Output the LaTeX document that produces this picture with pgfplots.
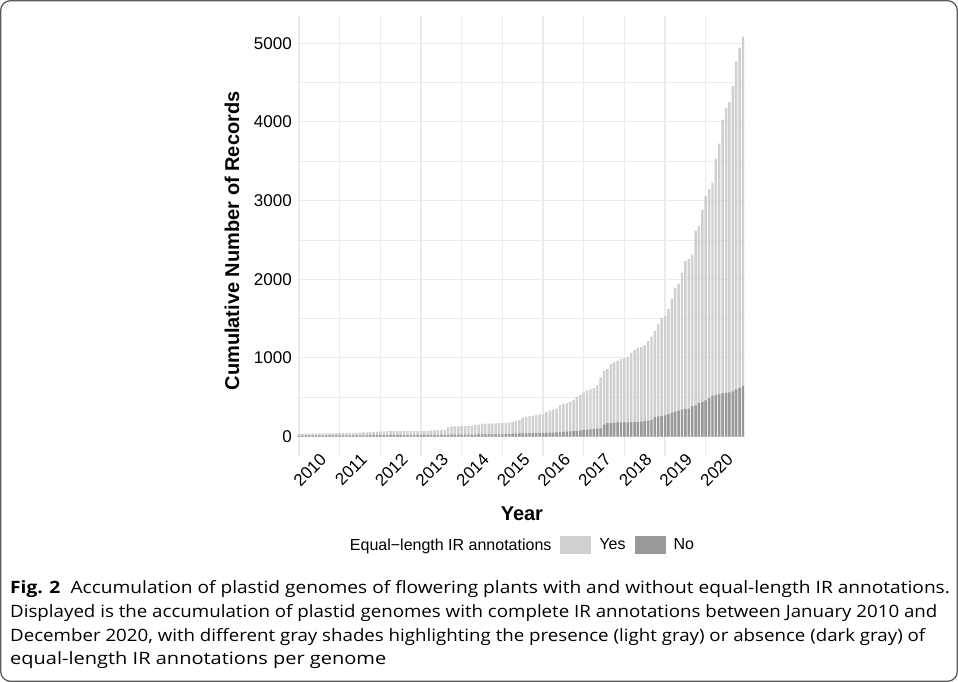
\documentclass[border=0pt]{standalone}
\usepackage{fontspec}
\setmainfont{Liberation Sans}
\newfontfamily\capfont[FakeStretch=1.1]{Open Sans}
\usepackage{pgfplots}
\usepackage{pgfplotstable}
\pgfplotsset{compat=1.18}
\definecolor{yescol}{HTML}{D0D0D0}
\definecolor{nocol}{HTML}{999999}
\definecolor{gridcol}{HTML}{EBEBEB}
\definecolor{framecol}{HTML}{5A5A5A}
\pgfplotstableread{
m total no
0 35 12
1 36 12
2 37 13
3 38 13
4 38 13
5 39 13
6 39 14
7 40 14
8 40 14
9 41 14
10 41 14
11 42 15
12 42 15
13 43 15
14 43 15
15 44 15
16 45 16
17 46 16
18 50 16
19 52 16
20 54 16
21 55 17
22 56 17
23 58 17
24 65 17
25 66 17
26 67 17
27 67 18
28 68 18
29 68 18
30 69 18
31 69 19
32 70 19
33 70 19
34 70 20
35 70 20
36 70 20
37 71 20
38 72 20
39 78 21
40 78 21
41 80 21
42 80 22
43 82 22
44 115 23
45 128 23
46 130 23
47 130 24
48 131 24
49 132 24
50 133 25
51 135 25
52 145 25
53 150 26
54 160 26
55 163 26
56 164 27
57 165 27
58 168 27
59 170 28
60 172 28
61 175 30
62 178 30
63 183 35
64 200 38
65 205 40
66 240 40
67 245 40
68 258 42
69 262 42
70 275 42
71 280 42
72 286 42
73 310 45
74 330 48
75 342 50
76 355 52
77 400 55
78 415 58
79 425 62
80 445 65
81 465 70
82 500 72
83 530 75
84 560 85
85 585 88
86 598 90
87 615 95
88 650 100
89 752 105
90 838 150
91 858 170
92 920 175
93 943 178
94 965 180
95 985 180
96 1000 180
97 1013 180
98 1059 182
99 1097 183
100 1131 185
101 1140 190
102 1161 195
103 1212 200
104 1271 212
105 1343 250
106 1428 255
107 1508 262
108 1528 270
109 1621 285
110 1748 300
111 1885 318
112 1945 330
113 2080 343
114 2233 350
115 2258 355
116 2313 385
117 2618 395
118 2673 425
119 2881 440
120 3060 460
121 3145 490
122 3227 520
123 3532 530
124 3724 540
125 4030 550
126 4178 555
127 4250 560
128 4454 575
129 4767 600
130 4940 620
131 5085 640
}\records

\begin{document}
\begin{tikzpicture}[x=1pt,y=1pt]
\useasboundingbox (0,0) rectangle (958,682);
\draw[framecol, line width=1.3pt, rounded corners=10pt] (0.65,0.65) rectangle (957.35,681.35);
\begin{axis}[
  at={(297pt,225.5pt)}, anchor=south west,
  scale only axis, width=448pt, height=440pt,
  xmin=-0.6, xmax=131.6, ymin=-254, ymax=5340,
  axis line style={draw=none},
  major tick length=0pt, minor tick length=0pt,
  xtick={0,12,24,36,48,60,72,84,96,108,120},
  xticklabels={,,,,,,,,,,},
  extra x ticks={7.2,19.2,31.2,43.2,55.2,67.2,79.2,91.2,103.2,115.2,127.2},
  extra x tick labels={2010,2011,2012,2013,2014,2015,2016,2017,2018,2019,2020},
  extra x tick style={grid=none},
  xticklabel style={rotate=45, anchor=east, inner sep=0pt, font=\fontsize{17}{17}\selectfont},
  ytick={0,1000,2000,3000,4000,5000},
  minor ytick={500,1500,2500,3500,4500},
  yticklabel style={anchor=east, inner sep=0pt, xshift=-5pt, font=\fontsize{17}{17}\selectfont},
  /pgf/number format/assume math mode=true,
  /pgf/number format/1000 sep={},
  xmajorgrids, ymajorgrids, yminorgrids,
  major grid style={gridcol, line width=1.2pt},
  minor grid style={gridcol, line width=0.7pt},
  xlabel={Year},
  ylabel={Cumulative Number of Records},
  xlabel style={at={(axis description cs:0.502,-0.1307)}, anchor=center, font=\fontsize{20}{20}\selectfont\bfseries},
  ylabel style={at={(axis description cs:-0.145,0.49)}, anchor=center, font=\fontsize{20}{20}\selectfont\bfseries},
  legend columns=3,
  legend cell align=left,
  legend style={at={(0.4955,-0.2011)}, anchor=center, draw=none, fill=none,
    inner sep=0pt, outer sep=0pt, font=\fontsize{16}{16}\selectfont,
    /tikz/every even column/.append style={column sep=7pt},
    /tikz/every odd column/.append style={column sep=6pt}},
]
\addlegendimage{empty legend}
\addlegendentry{Equal−length IR annotations}
\addplot[ybar, bar width=0.72, bar shift=0pt, fill=yescol, draw=none,
  legend image code/.code={\fill[yescol] (0pt,-9pt) rectangle (31pt,9pt);}]
  table[x=m, y=total]{\records};
\addlegendentry{Yes}
\addplot[ybar, bar width=0.72, bar shift=0pt, fill=nocol, draw=none,
  legend image code/.code={\fill[nocol] (0pt,-9pt) rectangle (31pt,9pt);}]
  table[x=m, y=no]{\records};
\addlegendentry{No}
\end{axis}
\begin{scope}[every node/.style={anchor=base west, inner sep=0pt, font=\capfont\fontsize{17}{17}\selectfont}]
\node[xscale=1.023] at (10,88) {\textbf{Fig. 2}\hspace{10pt}Accumulation of plastid genomes of flowering plants with and without equal-length IR annotations.};
\node at (10,64) {Displayed is the accumulation of plastid genomes with complete IR annotations between January 2010 and};
\node at (10,40) {December 2020, with different gray shades highlighting the presence (light gray) or absence (dark gray) of};
\node[xscale=1.07] at (10,17) {equal-length IR annotations per genome};
\end{scope}
\end{tikzpicture}
\end{document}
